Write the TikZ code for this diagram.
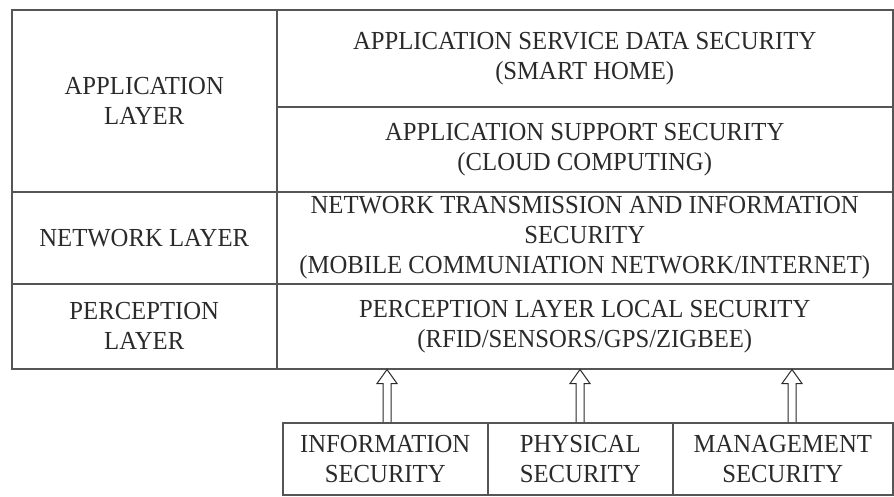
\documentclass[tikz,border=0pt]{standalone}
\usepackage{fontspec}
\setmainfont{Liberation Serif}[FakeStretch=0.95]
\usetikzlibrary{calc}
\definecolor{rule}{HTML}{555555}
\definecolor{ink}{HTML}{2A2A2A}
\tikzset{
  cell/.style={draw=rule, line width=1.5pt, anchor=north west, inner sep=0pt,
    align=center, text=ink, font=\fontsize{26}{30}\selectfont},
  upblock/.style={draw=ink, line width=1pt, line join=miter,
    to path={let \p1=(\tikztostart), \p2=(\tikztotarget) in
      (\x1-4pt,\y1) -- (\x1-4pt,\y2-14pt) -- (\x1-10pt,\y2-14pt) -- (\x2,\y2)
      -- (\x1+10pt,\y2-14pt) -- (\x1+4pt,\y2-14pt) -- (\x1+4pt,\y1)}}
}
\begin{document}
\begin{tikzpicture}[x=1pt,y=-1pt]
\useasboundingbox (0,0) rectangle (894,496);
\node[cell, minimum width=265pt, minimum height=182pt] (appL) at (11,9) {APPLICATION\\LAYER};
\node[cell, minimum width=616pt, minimum height=97pt] (app1) at (276,9) {APPLICATION SERVICE DATA SECURITY\\(SMART HOME)};
\node[cell, minimum width=616pt, minimum height=85pt] (app2) at (276,106) {APPLICATION SUPPORT SECURITY\\(CLOUD COMPUTING)};
\node[cell, minimum width=265pt, minimum height=92pt] (netL) at (11,191) {NETWORK LAYER};
\node[cell, minimum width=616pt, minimum height=92pt] (net) at (276,191) {NETWORK TRANSMISSION AND INFORMATION\\SECURITY\\(MOBILE COMMUNIATION NETWORK/INTERNET)};
\node[cell, minimum width=265pt, minimum height=85pt] (perL) at (11,283) {PERCEPTION\\LAYER};
\node[cell, minimum width=616pt, minimum height=85pt] (per) at (276,283) {PERCEPTION LAYER LOCAL SECURITY\\(RFID/SENSORS/GPS/ZIGBEE)};
\node[cell, minimum width=205pt, minimum height=72pt] (info) at (282,422) {INFORMATION\\SECURITY};
\node[cell, minimum width=185pt, minimum height=72pt] (phys) at (487,422) {PHYSICAL\\SECURITY};
\node[cell, minimum width=220pt, minimum height=72pt] (mgmt) at (672,422) {MANAGEMENT\\SECURITY};
\coordinate (x1) at (387,0);
\coordinate (x2) at (580,0);
\coordinate (x3) at (792,0);
\draw[upblock] (info.north -| x1) to (per.south -| x1);
\draw[upblock] (phys.north -| x2) to (per.south -| x2);
\draw[upblock] (mgmt.north -| x3) to (per.south -| x3);
\end{tikzpicture}
\end{document}
